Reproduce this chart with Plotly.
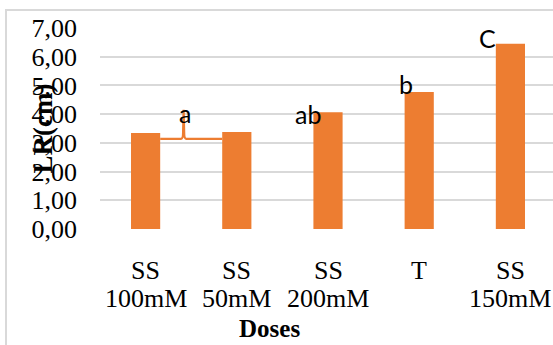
import plotly.graph_objects as go

categories = ["SS\n100mM", "SS\n50mM", "SS\n200mM", "T", "SS\n150mM"]
lr_values = [3.34, 3.38, 4.07, 4.77, 6.45]
letters = ["a", "", "ab", "b", "C"]
y_ticks = [0, 1, 2, 3, 4, 5, 6, 7]
y_tick_labels = ["0,00", "1,00", "2,00", "3,00", "4,00", "5,00", "6,00", "7,00"]

BAR = "#ED7D31"
GRID = "#d9d9d9"
SERIF = "Liberation Serif"
SANS = "Lato"
bar_w = 0.32
xpos = list(range(len(categories)))

fig = go.Figure()
fig.add_trace(go.Bar(x=xpos, y=lr_values, width=bar_w,
                     marker=dict(color=BAR, line=dict(width=0)),
                     hoverinfo="skip"))

# category labels, one annotation per text line
for i, cat in enumerate(categories):
    for j, line in enumerate(cat.split("\n")):
        fig.add_annotation(x=xpos[i], y=0, xref="x", yref="paper", yanchor="middle",
                           yshift=-41 - 28 * j, text=line, showarrow=False,
                           font=dict(family=SERIF, size=26, color="black"))

# letter annotations (offset relative to bar tops)
letter_pos = {2: (-0.22, -0.05), 3: (-0.14, 0.28), 4: (-0.25, 0.2)}
for i, t in enumerate(letters):
    if not t or i not in letter_pos:
        continue
    dx, dy = letter_pos[i]
    fig.add_annotation(x=xpos[i] + dx, y=lr_values[i] + dy, text=t, showarrow=False,
                       xref="x", yref="y", yanchor="middle",
                       font=dict(family=SANS, size=25, color="black"))

# shared "a" with curly brace between first two bars
x_left = xpos[0] + bar_w / 2
x_right = xpos[1] - bar_w / 2
tip = 0.417
yb = 3.14
ytop = 4.15
path = (f"M {x_left},{yb} L {tip-0.03},{yb} Q {tip-0.006},{yb} {tip-0.006},{yb+0.22} "
        f"L {tip},{ytop} L {tip+0.006},{yb+0.22} Q {tip+0.006},{yb} {tip+0.03},{yb} L {x_right},{yb}")
fig.add_shape(type="path", path=path, xref="x", yref="y",
              line=dict(color=BAR, width=2.2))
fig.add_annotation(x=tip + 0.02, y=4.04, text=letters[0], showarrow=False, xref="x", yref="y",
                   yanchor="middle", font=dict(family=SANS, size=25, color="black"))

# outer chart border
fig.add_shape(type="rect", xref="paper", yref="paper", x0=-0.2075, x1=1.2, y0=-1.0, y1=1.0896,
              line=dict(color=GRID, width=2), layer="below")

fig.add_annotation(x=0, y=0.5, xref="paper", yref="paper", xshift=-75, textangle=-90,
                   text="<b>LR(cm)</b>", showarrow=False,
                   font=dict(family=SERIF, size=27, color="black"))
fig.add_annotation(x=0.375, y=0, xref="paper", yref="paper", yanchor="middle", yshift=-99,
                   text="<b>Doses</b>", showarrow=False,
                   font=dict(family=SERIF, size=25, color="black"))

fig.update_layout(
    width=553, height=345,
    margin=dict(l=100, r=0, t=28, b=116),
    paper_bgcolor="white", plot_bgcolor="white",
    showlegend=False,
    xaxis=dict(range=[-0.5, 4.467], tickmode="array", tickvals=xpos,
               showticklabels=False,
               showgrid=False, zeroline=False, showline=False,
               ticks="", fixedrange=True),
    yaxis=dict(range=[0, 7], tickmode="array", tickvals=y_ticks, ticktext=y_tick_labels,
               showgrid=True, gridcolor=GRID, gridwidth=1.5, zeroline=False,
               showline=False, ticks="", ticklabelstandoff=22,
               tickfont=dict(family=SERIF, size=26, color="black"), fixedrange=True),
)

fig.write_html("out.html")
